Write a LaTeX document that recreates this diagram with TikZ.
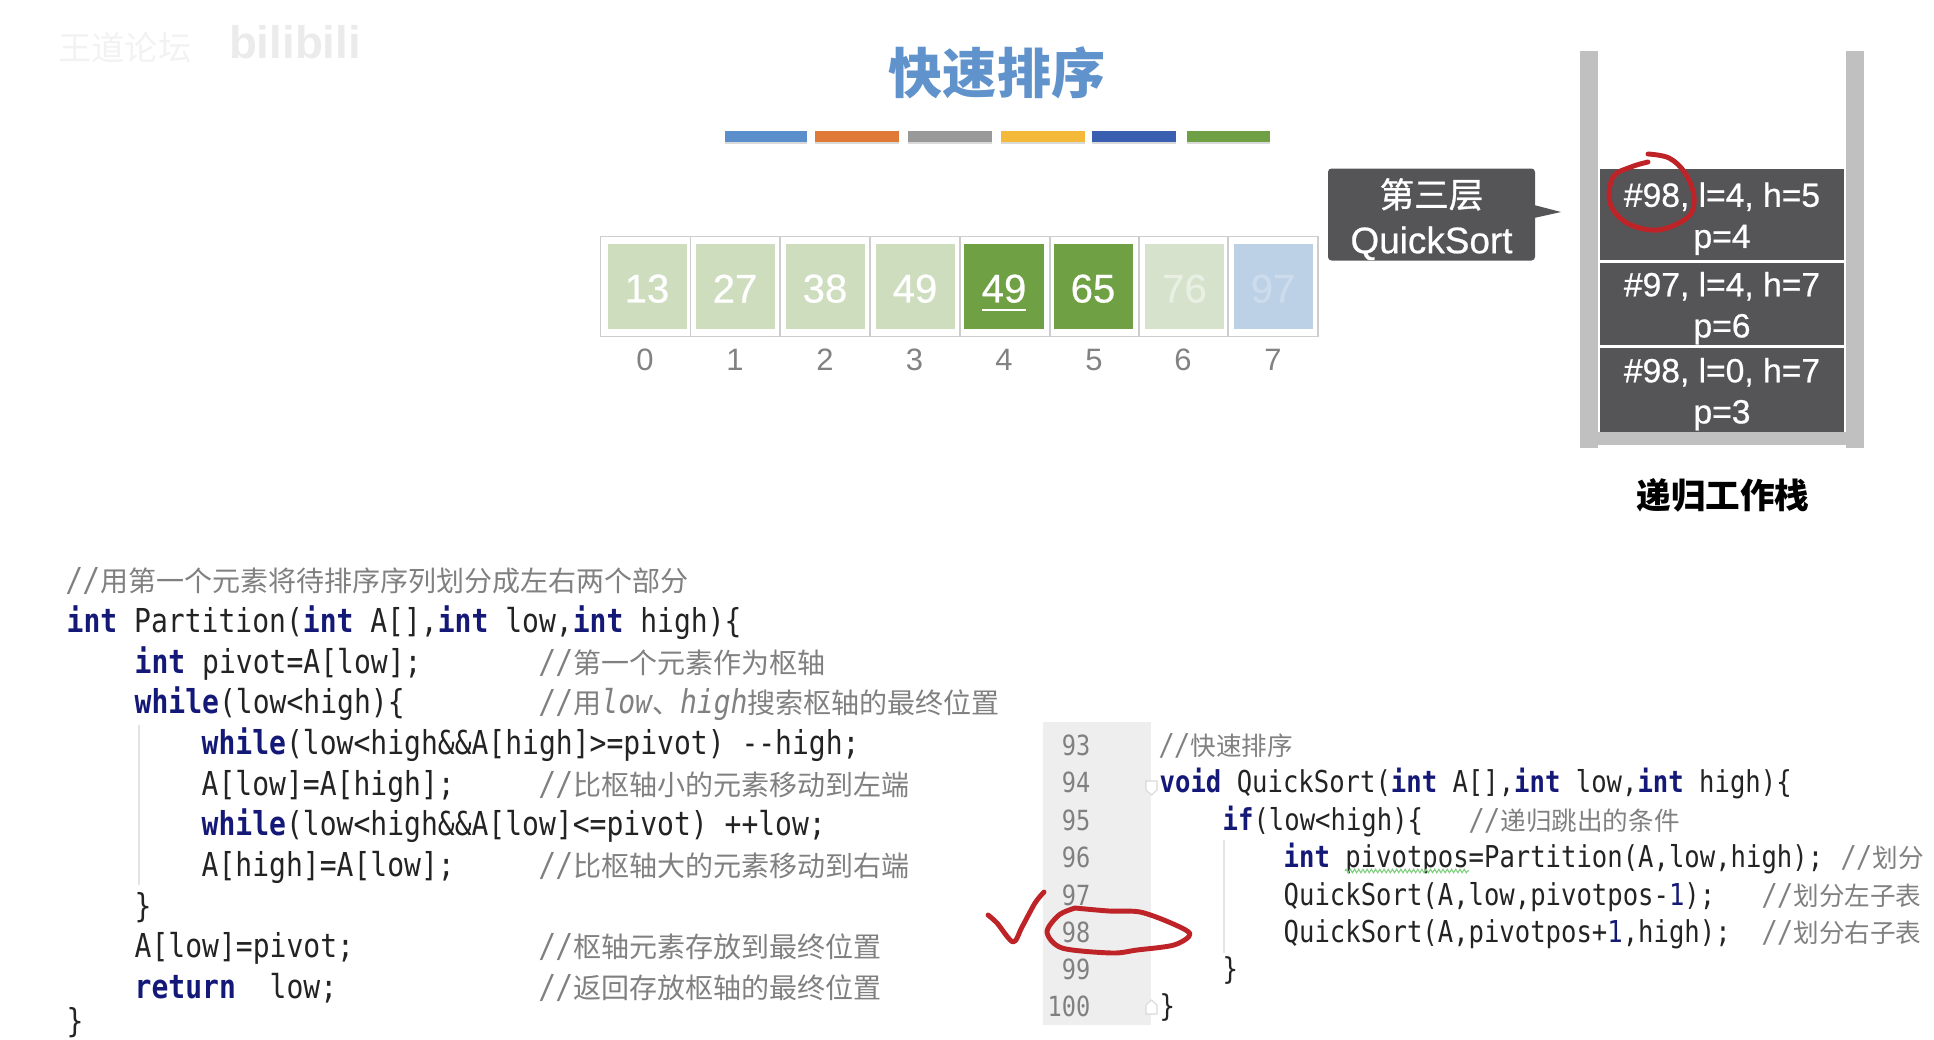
\documentclass[tikz,border=0pt]{standalone}
\usepackage{fontspec}
\setmainfont{Liberation Sans}
\newfontfamily\cjk{Noto Sans CJK SC}
\newfontfamily\cjkmed[FakeBold=0.9]{Noto Sans CJK SC}
\newfontfamily\sansmed[FakeBold=0.6]{Liberation Sans}
\newfontfamily\codefont[FakeStretch=0.85]{DejaVu Sans Mono}
\usepackage{xcolor}
\usetikzlibrary{shadows, decorations.pathmorphing}
\definecolor{titleblue}{RGB}{96,146,204}
\definecolor{barblue}{RGB}{91,143,203}
\definecolor{barorange}{RGB}{224,122,56}
\definecolor{bargray}{RGB}{153,153,153}
\definecolor{baryellow}{RGB}{245,185,58}
\definecolor{barnavy}{RGB}{58,95,176}
\definecolor{bargreen}{RGB}{111,160,70}
\definecolor{slotline}{RGB}{205,205,205}
\definecolor{donegreen}{RGB}{205,221,190}
\definecolor{activegreen}{RGB}{112,160,68}
\definecolor{palegreen}{RGB}{214,226,204}
\definecolor{paleblue}{RGB}{188,208,230}
\definecolor{indexgray}{RGB}{130,130,130}
\definecolor{stackdark}{RGB}{85,85,87}
\definecolor{stackwall}{RGB}{192,192,192}
\definecolor{keyword}{RGB}{20,25,120}
\definecolor{codetext}{RGB}{35,35,35}
\definecolor{comment}{RGB}{128,128,128}
\definecolor{gutter}{RGB}{238,238,238}
\definecolor{guide}{RGB}{228,228,228}
\definecolor{redpen}{RGB}{190,35,40}
\newcommand{\kw}[1]{\textbf{\color{keyword}#1}}
\newcommand{\cjkL}[1]{{\fontsize{7.97}{11}\selectfont\cjk #1}}
\newcommand{\cjkR}[1]{{\fontsize{7.28}{10}\selectfont\cjk #1}}
\newcommand{\noteL}[1]{{\itshape //}\cjkL{#1}}
\newcommand{\noteR}[1]{{\itshape //}\cjkR{#1}}
\newcommand{\framestrut}{\rule{0pt}{9.3pt}}
\newcommand{\cellstrut}{\rule{0pt}{9.2pt}}
\tikzset{
  slot/.style={draw=slotline, line width=0.5pt, minimum width=0.9cm, minimum height=1.0cm, inner sep=0pt},
  cell/.style={minimum width=0.79cm, minimum height=0.85cm, inner sep=0pt, text=white, font=\fontsize{11.4}{13}\selectfont\sansmed},
  idx/.style={inner sep=0pt, text=indexgray, font=\fontsize{8.8}{10}\selectfont},
  bar/.style={minimum height=0.11cm, inner sep=0pt, drop shadow={shadow xshift=0pt, shadow yshift=-0.7pt, opacity=0.3}},
  frame/.style={fill=stackdark, minimum width=2.44cm, inner sep=0pt, text=white, align=center, font=\fontsize{9.56}{11.7}\selectfont\sansmed},
  wall/.style={fill=stackwall, minimum width=0.18cm, minimum height=3.97cm, inner sep=0pt},
  codeL/.style={anchor=base west, inner sep=0pt, text=codetext, font=\fontsize{9.38}{11}\selectfont\codefont},
  cmtL/.style={codeL, text=comment},
  codeR/.style={anchor=base west, inner sep=0pt, text=codetext, font=\fontsize{8.57}{10}\selectfont\codefont},
  cmtR/.style={codeR, text=comment},
  lineno/.style={anchor=base east, inner sep=0pt, text=comment, font=\fontsize{7.9}{10}\selectfont\codefont},
  pen/.style={redpen, line width=1.4pt, line cap=round, line join=round},
}
\begin{document}
\begin{tikzpicture}
  \useasboundingbox (0,0) rectangle (19.34,-10.39);
  % watermark
  \node[inner sep=0pt, text=black!5, font=\fontsize{9.5}{11}\selectfont\cjk] (mark) at (1.25,-0.48) {王道论坛};
  \node[inner sep=0pt, text=black!8, font=\fontsize{13}{15}\selectfont\bfseries] (site) at (2.95,-0.42) {bilibili};
  % title
  \node[inner sep=0pt, text=titleblue, font=\fontsize{15.4}{18}\selectfont\cjk\bfseries] (title) at (9.97,-0.725) {快速排序};
  \node[bar, fill=barblue, minimum width=0.82cm] (bar0) at (7.66,-1.365) {};
  \node[bar, fill=barorange, minimum width=0.84cm] (bar1) at (8.57,-1.365) {};
  \node[bar, fill=bargray, minimum width=0.84cm] (bar2) at (9.50,-1.365) {};
  \node[bar, fill=baryellow, minimum width=0.84cm] (bar3) at (10.43,-1.365) {};
  \node[bar, fill=barnavy, minimum width=0.84cm] (bar4) at (11.34,-1.365) {};
  \node[bar, fill=bargreen, minimum width=0.83cm] (bar5) at (12.285,-1.365) {};
  % array
  \node[slot] (slot0) at (6.455,-2.865) {};
  \node[slot] (slot1) at (7.355,-2.865) {};
  \node[slot] (slot2) at (8.25,-2.865) {};
  \node[slot] (slot3) at (9.15,-2.865) {};
  \node[slot] (slot4) at (10.05,-2.865) {};
  \node[slot] (slot5) at (10.945,-2.865) {};
  \node[slot] (slot6) at (11.835,-2.865) {};
  \node[slot] (slot7) at (12.73,-2.865) {};
  \node[cell, fill=donegreen] (cell0) at (6.47,-2.865) {\cellstrut 13};
  \node[cell, fill=donegreen] (cell1) at (7.35,-2.865) {\cellstrut 27};
  \node[cell, fill=donegreen] (cell2) at (8.25,-2.865) {\cellstrut 38};
  \node[cell, fill=donegreen] (cell3) at (9.15,-2.865) {\cellstrut 49};
  \node[cell, fill=activegreen, minimum width=0.80cm] (cell4) at (10.04,-2.865) {\cellstrut 49};
  \node[cell, fill=activegreen] (cell5) at (10.93,-2.865) {\cellstrut 65};
  \node[cell, fill=palegreen, text=white!45!palegreen] (cell6) at (11.845,-2.865) {\cellstrut 76};
  \node[cell, fill=paleblue, text=white!25!paleblue] (cell7) at (12.73,-2.865) {\cellstrut 97};
  \draw[white, line width=0.8pt] (9.82,-3.10) -- (10.26,-3.10);
  \node[idx] (idx0) at (6.45,-3.60) {0};
  \node[idx] (idx1) at (7.35,-3.60) {1};
  \node[idx] (idx2) at (8.25,-3.60) {2};
  \node[idx] (idx3) at (9.145,-3.60) {3};
  \node[idx] (idx4) at (10.04,-3.60) {4};
  \node[idx] (idx5) at (10.94,-3.60) {5};
  \node[idx] (idx6) at (11.83,-3.60) {6};
  \node[idx] (idx7) at (12.73,-3.60) {7};
  % callout
  \node[rounded corners=1pt, fill=stackdark, text=white, minimum width=2.07cm, minimum height=0.92cm, inner sep=0pt, align=center, font=\fontsize{10.5}{13}\selectfont\sansmed] (layer) at (14.315,-2.145)
    {\rule{0pt}{11pt}{\cjkmed\fontsize{9.84}{13}\selectfont 第三层}\\QuickSort};
  \fill[stackdark] (15.34,-2.05) -- (15.61,-2.12) -- (15.34,-2.18) -- cycle;
  % stack
  \node[wall] (wallL) at (15.89,-2.495) {};
  \node[wall] (wallR) at (18.55,-2.495) {};
  \node[fill=stackwall, minimum width=2.48cm, minimum height=0.13cm, inner sep=0pt] (floor) at (17.22,-4.385) {};
  \node[frame, minimum height=0.91cm] (frame3) at (17.22,-2.145) {\framestrut\#98, l=4, h=5\\p=4};
  \node[frame, minimum height=0.82cm] (frame2) at (17.22,-3.04) {\framestrut\#97, l=4, h=7\\p=6};
  \node[frame, minimum height=0.84cm] (frame1) at (17.22,-3.90) {\framestrut\#98, l=0, h=7\\p=3};
  \node[inner sep=0pt, font=\fontsize{9.84}{12}\selectfont\cjk\bfseries] (stackname) at (17.23,-4.95) {递归工作栈};
  \draw[pen] plot[smooth, tension=0.6] coordinates {(16.48,-1.54) (16.69,-1.58) (16.85,-1.73) (16.94,-1.97) (16.88,-2.17) (16.58,-2.30) (16.27,-2.23) (16.10,-2.03) (16.13,-1.77) (16.31,-1.67) (16.48,-1.62)};
  % Partition
  \node[cmtL] (part0) at (0.66,-5.91) {\noteL{用第一个元素将待排序序列划分成左右两个部分}};
  \node[codeL] (part1) at (0.66,-6.325) {\kw{int} Partition(\kw{int} A[],\kw{int} low,\kw{int} high)\{};
  \node[codeL] (part2) at (1.34,-6.73) {\kw{int} pivot=A[low];};
  \node[codeL] (part3) at (1.34,-7.135) {\kw{while}(low<high)\{};
  \node[codeL] (part4) at (2.01,-7.545) {\kw{while}(low<high\&\&A[high]>=pivot) -{}-high;};
  \node[codeL] (part5) at (2.01,-7.95) {A[low]=A[high];};
  \node[codeL] (part6) at (2.01,-8.355) {\kw{while}(low<high\&\&A[low]<=pivot) ++low;};
  \node[codeL] (part7) at (2.01,-8.765) {A[high]=A[low];};
  \node[codeL] (part8) at (1.34,-9.17) {\}};
  \node[codeL] (part9) at (1.34,-9.575) {A[low]=pivot;};
  \node[codeL] (part10) at (1.34,-9.985) {\kw{return}\ \ low;};
  \node[codeL] (part11) at (0.66,-10.32) {\}};
  \node[cmtL] (note2) at (5.39,-6.73) {\noteL{第一个元素作为枢轴}};
  \node[cmtL] (note3) at (5.39,-7.135) {{\itshape //}\cjkL{用}{\itshape low}\cjkL{、}{\itshape high}\cjkL{搜索枢轴的最终位置}};
  \node[cmtL] (note5) at (5.39,-7.95) {\noteL{比枢轴小的元素移动到左端}};
  \node[cmtL] (note7) at (5.39,-8.765) {\noteL{比枢轴大的元素移动到右端}};
  \node[cmtL] (note9) at (5.39,-9.575) {\noteL{枢轴元素存放到最终位置}};
  \node[cmtL] (note10) at (5.39,-9.985) {\noteL{返回存放枢轴的最终位置}};
  \draw[guide, line width=0.5pt] (1.39,-7.25) -- (1.39,-8.85);
  % QuickSort
  \node[fill=gutter, minimum width=1.08cm, minimum height=3.03cm, inner sep=0pt] (margin) at (10.97,-8.735) {};
  \node[lineno] (num93) at (10.91,-7.55) {93};
  \node[lineno] (num94) at (10.91,-7.92) {94};
  \node[lineno] (num95) at (10.91,-8.30) {95};
  \node[lineno] (num96) at (10.91,-8.67) {96};
  \node[lineno] (num97) at (10.91,-9.05) {97};
  \node[lineno] (num98) at (10.91,-9.42) {98};
  \node[lineno] (num99) at (10.91,-9.79) {99};
  \node[lineno] (num100) at (10.91,-10.16) {100};
  \fill[white, draw=black!15, line width=0.3pt] (11.46,-7.81) -- (11.57,-7.81) -- (11.57,-7.90) -- (11.515,-7.95) -- (11.46,-7.90) -- cycle;
  \fill[white, draw=black!15, line width=0.3pt] (11.46,-10.14) -- (11.57,-10.14) -- (11.57,-10.05) -- (11.515,-10.00) -- (11.46,-10.05) -- cycle;
  \node[cmtR] (quick0) at (11.59,-7.55) {\noteR{快速排序}};
  \node[codeR] (quick1) at (11.59,-7.925) {\kw{void} QuickSort(\kw{int} A[],\kw{int} low,\kw{int} high)\{};
  \node[codeR] (quick2) at (12.22,-8.30) {\kw{if}(low<high)\{};
  \node[codeR] (quick3) at (12.83,-8.67) {\kw{int} pivotpos=Partition(A,low,high);};
  \node[codeR] (quick4) at (12.83,-9.05) {QuickSort(A,low,pivotpos-{\color{keyword}1});};
  \node[codeR] (quick5) at (12.83,-9.42) {QuickSort(A,pivotpos+{\color{keyword}1},high);};
  \node[codeR] (quick6) at (12.22,-9.79) {\}};
  \node[codeR] (quick7) at (11.59,-10.16) {\}};
  \node[cmtR] (tip2) at (14.69,-8.30) {\noteR{递归跳出的条件}};
  \node[cmtR] (tip3) at (18.41,-8.67) {\noteR{划分}};
  \node[cmtR] (tip4) at (17.62,-9.05) {\noteR{划分左子表}};
  \node[cmtR] (tip5) at (17.62,-9.42) {\noteR{划分右子表}};
  \draw[guide, line width=0.5pt] (12.24,-8.40) -- (12.24,-9.53);
  \draw[green!45!gray!70, line width=0.3pt, decorate, decoration={zigzag, segment length=1.2pt, amplitude=0.5pt}] (13.45,-8.71) -- (14.69,-8.71);
  % pen marks
  \draw[pen] plot[smooth, tension=0.5] coordinates {(9.88,-9.15) (9.97,-9.23) (10.13,-9.42) (10.22,-9.27) (10.35,-9.03) (10.44,-8.92)};
  \draw[pen] plot[smooth, tension=0.5] coordinates {(10.75,-9.08) (11.09,-9.11) (11.40,-9.12) (11.71,-9.23) (11.90,-9.34) (11.74,-9.45) (11.37,-9.50) (11.12,-9.53) (10.62,-9.48) (10.47,-9.32) (10.59,-9.15) (10.75,-9.08)};
\end{tikzpicture}
\end{document}
